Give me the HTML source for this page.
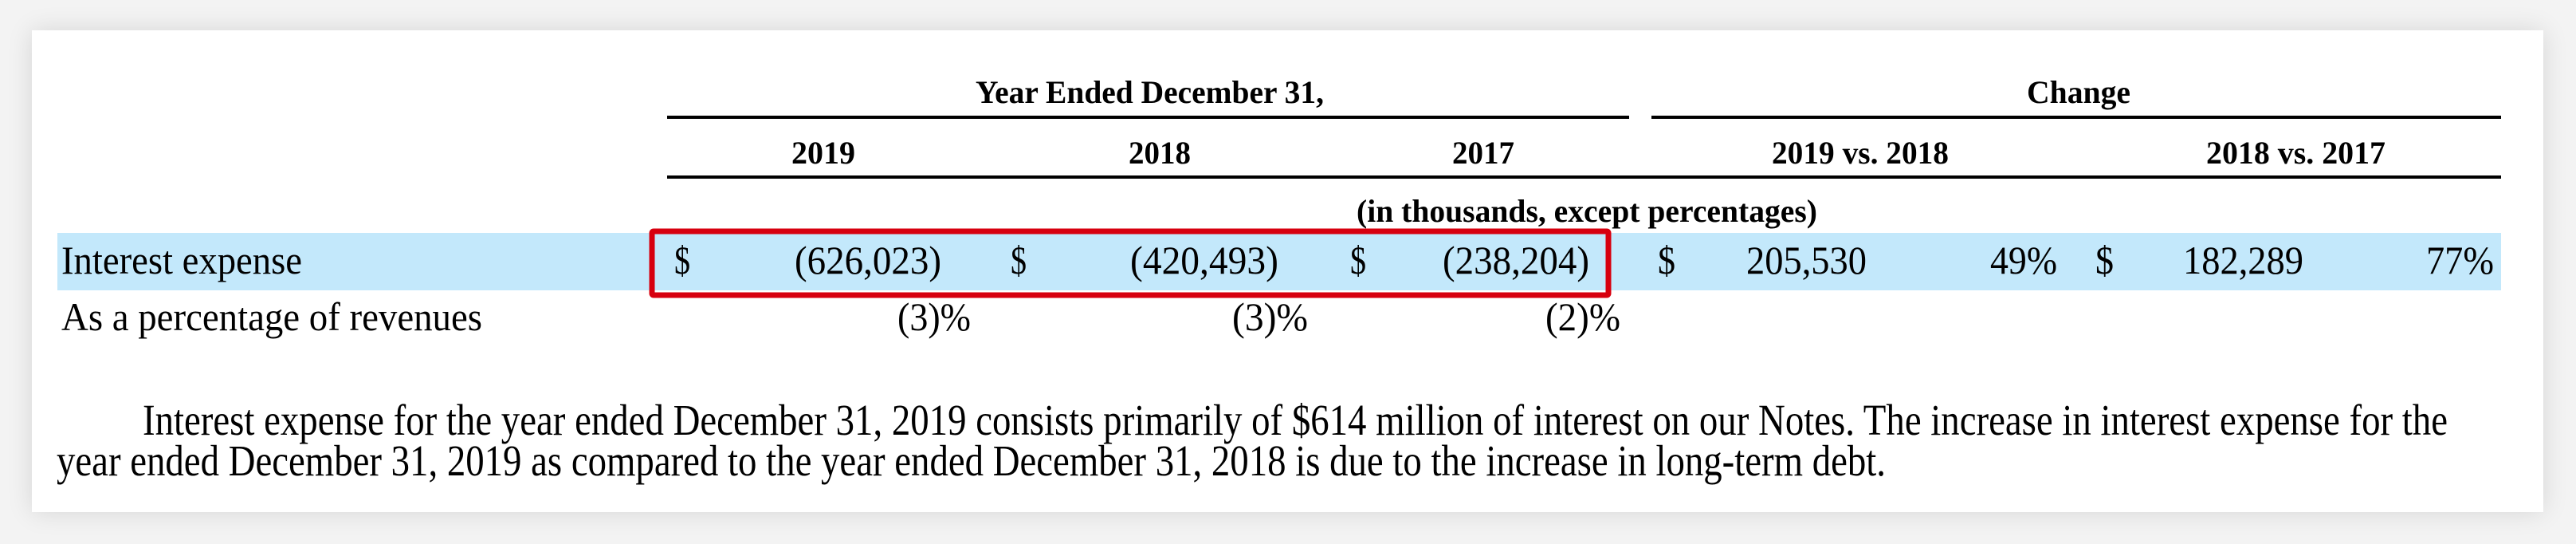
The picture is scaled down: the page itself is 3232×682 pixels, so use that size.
<!DOCTYPE html>
<html><head><meta charset="utf-8"><style>
html,body{margin:0;padding:0;background:#f3f3f3;}
body{width:3232px;height:682px;overflow:hidden;position:relative;}
.card{position:absolute;left:40px;top:38px;width:3151px;height:604px;background:#fff;box-shadow:0 0 30px rgba(0,0,0,0.12);}
svg{position:absolute;left:0;top:0;}
text{font-family:"Liberation Serif",serif;fill:#000;}
.b{font-weight:bold;font-size:40px;}
.n{font-size:50px;}
.p{font-size:55px;}
</style></head><body>
<div class="card"></div>
<svg width="3232" height="682" viewBox="0 0 3232 682">
<rect x="72" y="292" width="3066" height="72" fill="#c3e8fb"/>
<rect x="818" y="290" width="1200" height="80" fill="none" stroke="#d7000f" stroke-width="7" rx="2"/>
<rect x="837" y="145" width="1207" height="4"/>
<rect x="2072" y="145" width="1066" height="4"/>
<rect x="837" y="220" width="2301" height="4"/>
<text class="b" x="1224" y="129" textLength="437" lengthAdjust="spacingAndGlyphs">Year Ended December 31,</text>
<text class="b" x="2543" y="129" textLength="130" lengthAdjust="spacingAndGlyphs">Change</text>
<text class="b" x="993" y="205" textLength="80" lengthAdjust="spacingAndGlyphs">2019</text>
<text class="b" x="1416" y="205" textLength="78" lengthAdjust="spacingAndGlyphs">2018</text>
<text class="b" x="1822" y="205" textLength="78" lengthAdjust="spacingAndGlyphs">2017</text>
<text class="b" x="2223" y="205" textLength="222" lengthAdjust="spacingAndGlyphs">2019 vs. 2018</text>
<text class="b" x="2768" y="205" textLength="225" lengthAdjust="spacingAndGlyphs">2018 vs. 2017</text>
<text class="b" x="1702" y="278" textLength="578" lengthAdjust="spacingAndGlyphs">(in thousands, except percentages)</text>
<text class="n" x="77" y="343" textLength="302" lengthAdjust="spacingAndGlyphs">Interest expense</text>
<text class="n" x="846" y="343" textLength="20" lengthAdjust="spacingAndGlyphs">$</text>
<text class="n" x="997" y="343" textLength="184" lengthAdjust="spacingAndGlyphs">(626,023)</text>
<text class="n" x="1268" y="343" textLength="20" lengthAdjust="spacingAndGlyphs">$</text>
<text class="n" x="1418" y="343" textLength="186" lengthAdjust="spacingAndGlyphs">(420,493)</text>
<text class="n" x="1694" y="343" textLength="20" lengthAdjust="spacingAndGlyphs">$</text>
<text class="n" x="1810" y="343" textLength="184" lengthAdjust="spacingAndGlyphs">(238,204)</text>
<text class="n" x="2080" y="343" textLength="22" lengthAdjust="spacingAndGlyphs">$</text>
<text class="n" x="2191" y="343" textLength="151" lengthAdjust="spacingAndGlyphs">205,530</text>
<text class="n" x="2497" y="343" textLength="84" lengthAdjust="spacingAndGlyphs">49%</text>
<text class="n" x="2629" y="343" textLength="23" lengthAdjust="spacingAndGlyphs">$</text>
<text class="n" x="2739" y="343" textLength="151" lengthAdjust="spacingAndGlyphs">182,289</text>
<text class="n" x="3044" y="343" textLength="85" lengthAdjust="spacingAndGlyphs">77%</text>
<text class="n" x="77" y="414" textLength="528" lengthAdjust="spacingAndGlyphs">As a percentage of revenues</text>
<text class="n" x="1126" y="414" textLength="92" lengthAdjust="spacingAndGlyphs">(3)%</text>
<text class="n" x="1546" y="414" textLength="95" lengthAdjust="spacingAndGlyphs">(3)%</text>
<text class="n" x="1939" y="414" textLength="94" lengthAdjust="spacingAndGlyphs">(2)%</text>
<text class="p" x="179" y="545" textLength="2892" lengthAdjust="spacingAndGlyphs">Interest expense for the year ended December 31, 2019 consists primarily of $614 million of interest on our Notes. The increase in interest expense for the</text>
<text class="p" x="71" y="596" textLength="2295" lengthAdjust="spacingAndGlyphs">year ended December 31, 2019 as compared to the year ended December 31, 2018 is due to the increase in long-term debt.</text>
</svg>
</body></html>
